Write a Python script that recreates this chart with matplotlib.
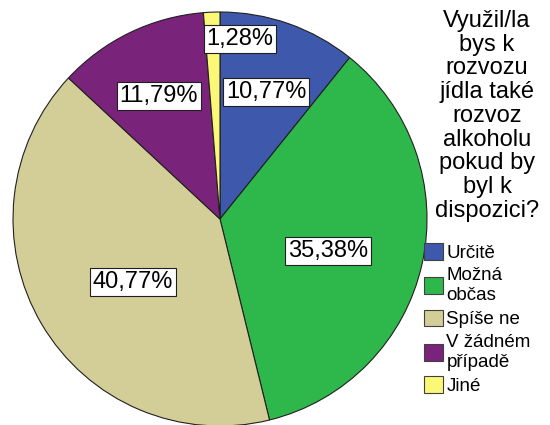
import matplotlib
matplotlib.use("Agg")
import matplotlib.pyplot as plt
from matplotlib.patches import Patch

plt.rcParams['font.family'] = ['Liberation Sans', 'DejaVu Sans']

categories = ["Určitě", "Možná\nobčas", "Spíše ne", "V žádném\npřípadě", "Jiné"]
values = [10.77, 35.38, 40.77, 11.79, 1.28]
pct_labels = ["10,77%", "35,38%", "40,77%", "11,79%", "1,28%"]
colors = ["#3E58AC", "#2EB84B", "#D3CE98", "#79247A", "#FAF876"]
title = "Využil/la\nbys k\nrozvozu\njídla také\nrozvoz\nalkoholu\npokud by\nbyl k\ndispozici?"

W, H = 550, 425
fig = plt.figure(figsize=(W / 100, H / 100), dpi=100)
cx, cy, r = 220, 219, 207
ax = fig.add_axes([(cx - r) / W, (H - cy - r) / H, 2 * r / W, 2 * r / H])
wedges, _ = ax.pie(values, colors=colors, startangle=90, counterclock=False,
                   radius=1.0,
                   wedgeprops=dict(edgecolor="#202020", linewidth=0.8))
ax.set_xlim(-1, 1)
ax.set_ylim(-1, 1)
ax.set_aspect("equal")
ax.axis("off")

# label placement (in axes data units, relative to pie center)
label_pos = [(0.222, 0.614), (0.522, -0.155), (-0.42, -0.304), (-0.295, 0.594), (0.097, 0.87)]
for (x, y), t in zip(label_pos, pct_labels):
    ax.text(x, y, t, ha="center", va="center", fontsize=17,
            bbox=dict(boxstyle="square,pad=0.12", facecolor="white",
                      edgecolor="#202020", linewidth=0.8))

fig.text(487 / W, 1 - 10 / H, title, ha="center", va="top", fontsize=17,
         linespacing=1.10)

handles = [Patch(facecolor=c, edgecolor="#404040", linewidth=0.8) for c in colors]
fig.legend(handles, categories, loc="upper left",
           bbox_to_anchor=(424 / W, 1 - 243 / H), frameon=False,
           fontsize=13.5, handlelength=1.0, handleheight=1.0,
           handletextpad=0.2, labelspacing=0.3, borderpad=0, borderaxespad=0)

fig.savefig("out.png", dpi=100)
